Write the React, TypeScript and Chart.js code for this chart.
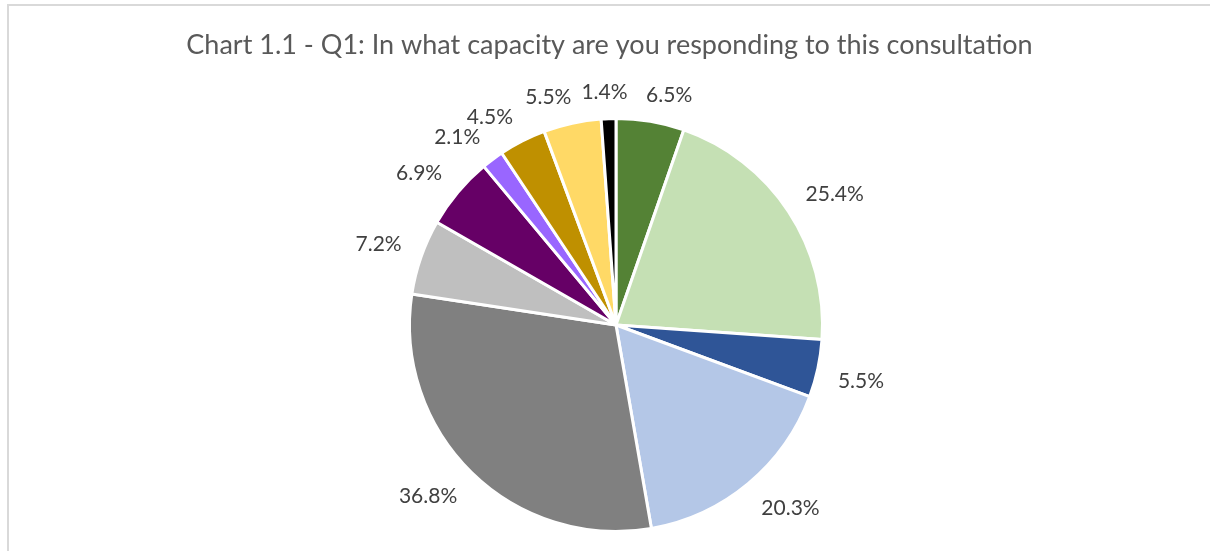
import React, { useEffect, useRef } from "react";
import { Chart, registerables } from "chart.js";

Chart.register(...registerables);

// ---- Data ----
const TITLE = "Chart 1.1 - Q1: In what capacity are you responding to this consultation";
const categories = [
  "Response 1",
  "Response 2",
  "Response 3",
  "Response 4",
  "Response 5",
  "Response 6",
  "Response 7",
  "Response 8",
  "Response 9",
  "Response 10",
  "Response 11",
];
const values = [6.5, 25.4, 5.5, 20.3, 36.8, 7.2, 6.9, 2.1, 4.5, 5.5, 1.4];
const valueLabels = ["6.5%", "25.4%", "5.5%", "20.3%", "36.8%", "7.2%", "6.9%", "2.1%", "4.5%", "5.5%", "1.4%"];
const sliceColors = [
  "#548235",
  "#C5E0B4",
  "#2F5597",
  "#B4C7E7",
  "#808080",
  "#BFBFBF",
  "#660066",
  "#9966FF",
  "#BF9000",
  "#FFD966",
  "#000000",
];

// ---- Styling ----
const FONT_FAMILY = "Lato, 'Open Sans', sans-serif";
const LABEL_SIZE = 21;
const LABEL_COLOR = "#404040";
const TITLE_SIZE = 27;
const TITLE_COLOR = "#595959";
const SLICE_BORDER = 3;

const clamp1 = (v: number) => Math.max(-1, Math.min(1, v));

// Chart title centred on the whole chart box (Excel style), independent of plot-area offset.
const chartTitle = {
  id: "chartTitle",
  afterDraw(chart: any) {
    const ctx = chart.ctx as CanvasRenderingContext2D;
    ctx.save();
    ctx.font = `normal ${TITLE_SIZE}px ${FONT_FAMILY}`;
    ctx.fillStyle = TITLE_COLOR;
    ctx.textAlign = "center";
    ctx.textBaseline = "middle";
    ctx.fillText(TITLE, chart.width / 2, 39.2);
    ctx.restore();
  },
};

// Excel-like "outside end" labels: anchor on a circle just outside the pie,
// label box hung off the anchor toward the outside.
const outsideLabels = {
  id: "outsideLabels",
  afterDatasetsDraw(chart: any) {
    const meta = chart.getDatasetMeta(0);
    const arcs = meta.data as any[];
    if (!arcs.length) return;
    const ctx = chart.ctx as CanvasRenderingContext2D;
    const cx = arcs[0].x;
    const cy = arcs[0].y;
    const R = arcs[0].outerRadius - SLICE_BORDER / 2;
    ctx.save();
    ctx.font = `normal ${LABEL_SIZE}px ${FONT_FAMILY}`;
    const gap = 22;
    const padX = 4;
    const padY = 2;
    const items = arcs.map((arc: any, i: number) => {
      const mid = (arc.startAngle + arc.endAngle) / 2 + Math.PI / 2;
      const text = valueLabels[i];
      const m = ctx.measureText(text);
      const asc = m.actualBoundingBoxAscent;
      const h = asc + m.actualBoundingBoxDescent;
      return { a: mid, w: m.width, h, asc, text, x: 0, y: 0 };
    });
    const place = (it: any) => {
      const s = Math.sin(it.a);
      const c = Math.cos(it.a);
      const d = R + gap;
      it.x = cx + d * s + (it.w / 2) * clamp1(s * 4);
      it.y = cy - d * c + (it.h / 2) * clamp1(-c * 4);
    };
    items.forEach(place);
    const n = items.length;
    const step = 0.002;
    for (let iter = 0; iter < 3000; iter++) {
      let moved = false;
      for (let i = 0; i < n; i++) {
        const A = items[i];
        const B = items[(i + 1) % n];
        const ox = Math.min(A.x + A.w / 2, B.x + B.w / 2) - Math.max(A.x - A.w / 2, B.x - B.w / 2) + padX;
        const oy = Math.min(A.y + A.h / 2, B.y + B.h / 2) - Math.max(A.y - A.h / 2, B.y - B.h / 2) + padY;
        if (ox > 0 && oy > 0) {
          A.a -= step;
          B.a += step;
          place(A);
          place(B);
          moved = true;
        }
      }
      if (!moved) break;
    }
    ctx.fillStyle = LABEL_COLOR;
    ctx.textAlign = "center";
    ctx.textBaseline = "alphabetic";
    items.forEach((it) => ctx.fillText(it.text, it.x, it.y - it.h / 2 + it.asc + 1));
    ctx.restore();
  },
};

export default function App() {
  const canvasRef = useRef<HTMLCanvasElement | null>(null);

  useEffect(() => {
    if (!canvasRef.current) return;
    const chart = new Chart(canvasRef.current, {
      type: "pie",
      data: {
        labels: categories,
        datasets: [
          {
            data: values,
            backgroundColor: sliceColors,
            borderColor: "#FFFFFF",
            borderWidth: SLICE_BORDER,
          },
        ],
      },
      options: {
        responsive: false,
        animation: false,
        radius: 206.5,
        layout: { padding: { left: 13, right: 0, top: 55, bottom: 17 } },
        plugins: {
          legend: { display: false },
          tooltip: { enabled: false },
          title: { display: false },
        },
      } as any,
      plugins: [outsideLabels as any, chartTitle as any],
    });
    return () => chart.destroy();
  }, []);

  return (
    <div
      style={{
        position: "absolute",
        left: 7,
        top: 4,
        width: 1203,
        height: 547,
        borderLeft: "2px solid #D9D9D9",
        borderTop: "2px solid #D9D9D9",
        boxSizing: "border-box",
        overflow: "hidden",
        background: "#FFFFFF",
      }}
    >
      <canvas ref={canvasRef} width={1201} height={600} style={{ display: "block" }} />
    </div>
  );
}
